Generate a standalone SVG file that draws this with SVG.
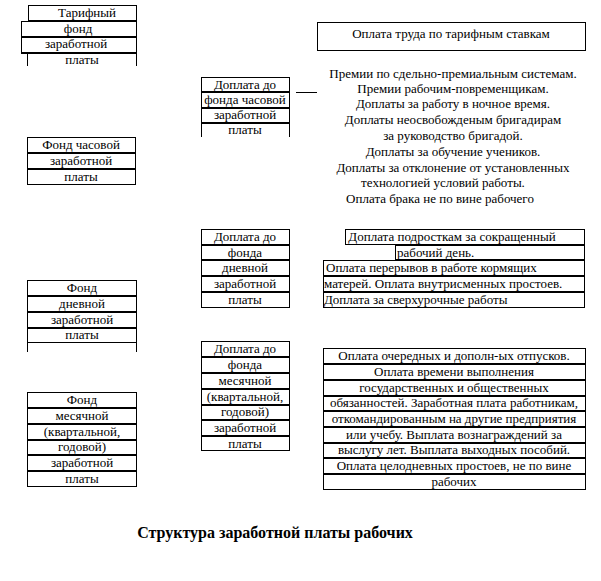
<svg xmlns="http://www.w3.org/2000/svg" width="601" height="581" viewBox="0 0 601 581">
<style>
rect{fill:#fff;stroke:#000;stroke-width:1}
.s{stroke:#000;stroke-width:1;fill:none}
.th{stroke:#000;stroke-width:2;fill:none}
text{font-family:'Liberation Serif','Times New Roman','DejaVu Serif',serif;font-size:13px;fill:#000}
.c{text-anchor:middle}
.t{font-weight:bold;font-size:16px}
</style>
<rect x="0" y="0" width="601" height="581" style="stroke:none"/>
<g id="tarif-fund" font-family="Liberation Serif, serif">
<rect x="28.5" y="5.5" width="108" height="15"/>
<rect x="21.5" y="21.5" width="115" height="15"/>
<rect x="21.5" y="37.5" width="115" height="15"/>
<path class="s" d="M27.5 53V66M136.5 53V66"/>
<path class="th" d="M28 21H137M21 37H137M21 53H137"/>
<text class="c" x="87" y="17">Тарифный</text>
<text class="c" x="78" y="33">фонд</text>
<text class="c" x="76" y="48">заработной</text>
<text class="c" x="82" y="64">платы</text>
</g>
<g id="hourly-fund">
<rect x="27.5" y="137.5" width="108" height="15"/>
<rect x="27.5" y="153.5" width="108" height="15"/>
<rect x="27.5" y="169.5" width="108" height="15"/>
<path class="th" d="M27 153H136"/>
<text class="c" x="81" y="149">Фонд часовой</text>
<text class="c" x="81" y="165">заработной</text>
<text class="c" x="81" y="181">платы</text>
</g>
<g id="daily-fund">
<rect x="27.5" y="280.5" width="109" height="15"/>
<rect x="27.5" y="296.5" width="109" height="15"/>
<rect x="27.5" y="312.5" width="109" height="15"/>
<rect x="27.5" y="328.5" width="109" height="14"/>
<path class="s" d="M27.5 343V352M136.5 343V352"/>
<path class="th" d="M27 296H137M27 312H137M27 328H137"/>
<text class="c" x="82" y="292">Фонд</text>
<text class="c" x="82" y="308">дневной</text>
<text class="c" x="82" y="324">заработной</text>
<text class="c" x="82" y="339">платы</text>
</g>
<g id="monthly-fund">
<rect x="27.5" y="392.5" width="109" height="15"/>
<rect x="27.5" y="408.5" width="109" height="15"/>
<rect x="27.5" y="424.5" width="109" height="15"/>
<rect x="27.5" y="440.5" width="109" height="14"/>
<rect x="27.5" y="455.5" width="109" height="15"/>
<rect x="27.5" y="471.5" width="109" height="15"/>
<path class="th" d="M27 408H137M27 424H137M27 440H137M27 455H137M27 471H137"/>
<text class="c" x="82" y="404">Фонд</text>
<text class="c" x="82" y="420">месячной</text>
<text class="c" x="82" y="436">(квартальной,</text>
<text class="c" x="82" y="451">годовой)</text>
<text class="c" x="82" y="467">заработной</text>
<text class="c" x="82" y="483">платы</text>
</g>
<g id="hourly-supplement">
<rect x="201.5" y="77.5" width="88" height="14"/>
<rect x="201.5" y="92.5" width="88" height="15"/>
<rect x="201.5" y="108.5" width="88" height="14"/>
<path class="s" d="M201.5 123V137M289.5 123V137"/>
<path class="th" d="M201 92H290M201 108H290M201 123H290"/>
<text class="c" x="245" y="89">Доплата до</text>
<text class="c" x="245" y="104">фонда часовой</text>
<text class="c" x="245" y="119">заработной</text>
<text class="c" x="245" y="134">платы</text>
</g>
<g id="daily-supplement">
<rect x="201.5" y="229.5" width="88" height="15"/>
<rect x="201.5" y="245.5" width="88" height="14"/>
<rect x="201.5" y="260.5" width="88" height="15"/>
<rect x="201.5" y="276.5" width="88" height="15"/>
<rect x="201.5" y="292.5" width="88" height="15"/>
<path class="th" d="M201 260H290M201 276H290"/>
<text class="c" x="245" y="241">Доплата до</text>
<text class="c" x="245" y="257">фонда</text>
<text class="c" x="245" y="272">дневной</text>
<text class="c" x="245" y="288">заработной</text>
<text class="c" x="245" y="304">платы</text>
</g>
<g id="monthly-supplement">
<rect x="201.5" y="341.5" width="88" height="15"/>
<rect x="201.5" y="357.5" width="88" height="15"/>
<rect x="201.5" y="373.5" width="88" height="15"/>
<rect x="201.5" y="389.5" width="88" height="15"/>
<rect x="201.5" y="405.5" width="88" height="14"/>
<rect x="201.5" y="420.5" width="88" height="15"/>
<rect x="201.5" y="436.5" width="88" height="14"/>
<path class="th" d="M201 357H290M201 373H290M201 420H290M201 436H290"/>
<text class="c" x="245" y="353">Доплата до</text>
<text class="c" x="245" y="369">фонда</text>
<text class="c" x="245" y="385">месячной</text>
<text class="c" x="245" y="401">(квартальной,</text>
<text class="c" x="245" y="416">годовой)</text>
<text class="c" x="245" y="432">заработной</text>
<text class="c" x="245" y="448">платы</text>
</g>
<g id="tariff-pay">
<rect x="317.5" y="22.5" width="268" height="28"/>
<text class="c" x="451" y="38">Оплата труда по тарифным ставкам</text>
</g>
<g id="bonuses">
<text class="c" x="453" y="78">Премии по сдельно-премиальным системам.</text>
<text class="c" x="453" y="93">Премии рабочим-повременщикам.</text>
<text class="c" x="453" y="108">Доплаты за работу в ночное время.</text>
<text class="c" x="453" y="124">Доплаты неосвобожденым бригадирам</text>
<text class="c" x="453" y="140">за руководство бригадой.</text>
<text class="c" x="453" y="156">Доплаты за обучение учеников.</text>
<text class="c" x="453" y="172">Доплаты за отклонение от установленных</text>
<text class="c" x="443" y="187">технологией условий работы.</text>
<text class="c" x="440" y="203">Оплата брака не по вине рабочего</text>
</g>
<g id="daily-payments">
<rect x="345.5" y="229.5" width="239" height="15"/>
<rect x="395.5" y="245.5" width="189" height="14"/>
<rect x="323.5" y="260.5" width="261" height="15"/>
<rect x="323.5" y="276.5" width="261" height="15"/>
<rect x="323.5" y="292.5" width="261" height="15"/>
<path class="th" d="M323 276H585"/>
<text class="c" x="452" y="241">Доплата подросткам за сокращенный</text>
<text x="397" y="257">рабочий день.</text>
<text x="326" y="272">Оплата перерывов в работе кормящих</text>
<text x="324" y="288">матерей. Оплата внутрисменных простоев.</text>
<text x="324" y="304">Доплата за сверхурочные работы</text>
</g>
<g id="monthly-payments">
<rect x="323.5" y="348.5" width="262" height="15"/>
<rect x="323.5" y="364.5" width="262" height="15"/>
<rect x="323.5" y="380.5" width="262" height="15"/>
<rect x="323.5" y="396.5" width="262" height="14"/>
<rect x="323.5" y="411.5" width="262" height="15"/>
<rect x="323.5" y="427.5" width="262" height="15"/>
<rect x="323.5" y="443.5" width="262" height="14"/>
<rect x="323.5" y="458.5" width="262" height="15"/>
<rect x="323.5" y="474.5" width="262" height="15"/>
<path class="th" d="M323 364H586M323 380H586M323 396H586M323 411H586M323 427H586M323 443H586M323 458H586M323 474H586"/>
<text class="c" x="454" y="360">Оплата очередных и дополн-ых отпусков.</text>
<text class="c" x="454" y="376">Оплата времени выполнения</text>
<text class="c" x="454" y="392">государственных и общественных</text>
<text class="c" x="454" y="407">обязанностей. Заработная плата работникам,</text>
<text class="c" x="454" y="423">откомандированным на другие предприятия</text>
<text class="c" x="454" y="439">или учебу. Выплата вознаграждений за</text>
<text class="c" x="454" y="454">выслугу лет. Выплата выходных пособий.</text>
<text class="c" x="454" y="470">Оплата целодневных простоев, не по вине</text>
<text class="c" x="454" y="486">рабочих</text>
</g>
<g id="connectors">
<path class="s" d="M296 92.5H317"/>
</g>
<text class="c t" x="275" y="538">Структура заработной платы рабочих</text>
</svg>
